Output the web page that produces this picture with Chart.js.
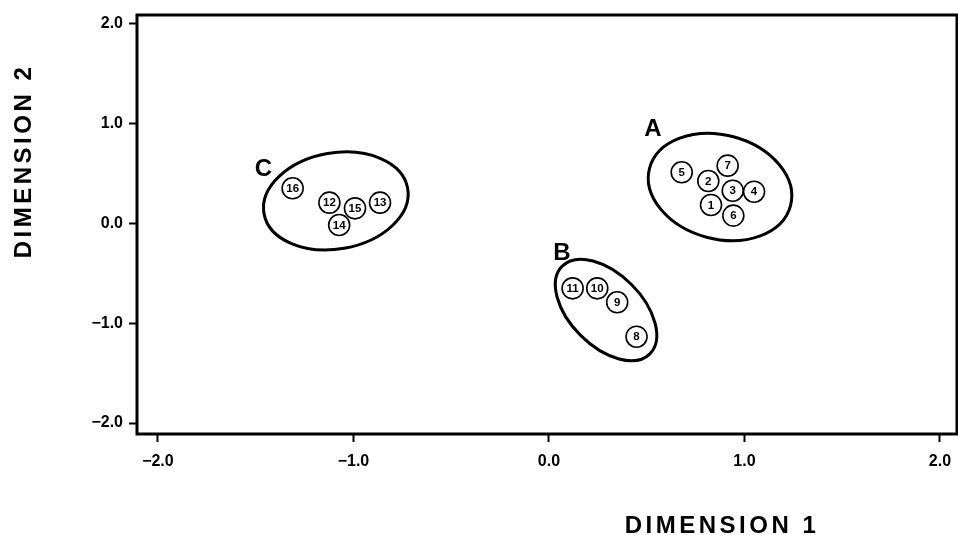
<!DOCTYPE html>
<html><head><meta charset="utf-8">
<script src="https://cdn.jsdelivr.net/npm/chart.js@4.4.1/dist/chart.umd.min.js"></script>
<style>html,body{margin:0;padding:0;background:#fff}#wrap{width:958px;height:535px}</style>
</head><body><div id="wrap"><canvas id="c" width="958" height="535"></canvas></div>
<script>
// ---- data ----
const pointNames = ['1','2','3','4','5','6','7','8','9','10','11','12','13','14','15','16'];
const dim1 = [0.829, 0.815, 0.940, 1.049, 0.679, 0.943, 0.914, 0.448, 0.349, 0.247, 0.121, -1.123, -0.864, -1.073, -0.992, -1.311];
const dim2 = [0.186, 0.426, 0.329, 0.319, 0.513, 0.079, 0.580, -1.135, -0.790, -0.650, -0.650, 0.209, 0.209, -0.015, 0.152, 0.353];
const tickValues = [-2, -1, 0, 1, 2];
const tickLabels = ['\u22122.0', '\u22121.0', '0.0', '1.0', '2.0'];
const clusterNames = ['A', 'B', 'C'];
const clusterCenterX = [0.875, 0.292, -1.090];
const clusterCenterY = [0.366, -0.867, 0.226];
const clusterLabelX = [0.532, 0.066, -1.460];
const clusterLabelY = [0.957, -0.286, 0.551];
const axisTitles = ['DIMENSION 1', 'DIMENSION 2'];

// ---- styles ----
const ellipseStyle = [
  {a: 0.373, b: 0.266, rot: 15},
  {a: 0.317, b: 0.184, rot: 45},
  {a: 0.373, b: 0.246, rot: -10}
];
const FONT = '"Liberation Sans", Arial, Helvetica, sans-serif';

const overlay = {
  id: 'overlay',
  beforeDatasetsDraw(chart) {
    const {ctx, chartArea: a, scales: {x, y}} = chart;
    ctx.save();
    ctx.strokeStyle = '#000';
    ctx.lineWidth = 3;
    ctx.strokeRect(a.left, a.top, a.right - a.left, a.bottom - a.top);
    const ux = x.getPixelForValue(1) - x.getPixelForValue(0);
    clusterCenterX.forEach((cx, i) => {
      const px = x.getPixelForValue(cx), py = y.getPixelForValue(clusterCenterY[i]);
      const e = ellipseStyle[i];
      ctx.beginPath();
      ctx.ellipse(px, py, e.a * ux, e.b * ux, e.rot * Math.PI / 180, 0, 2 * Math.PI);
      ctx.stroke();
    });
    ctx.restore();
  },
  afterDatasetsDraw(chart) {
    const {ctx, scales: {x, y}} = chart;
    ctx.save();
    ctx.fillStyle = '#000';
    ctx.textAlign = 'center';
    ctx.textBaseline = 'middle';
    ctx.font = 'bold 11.5px ' + FONT;
    chart.getDatasetMeta(0).data.forEach((pt, i) => {
      ctx.fillText(pointNames[i], pt.x, pt.y + 0.5);
    });
    ctx.font = 'bold 24px ' + FONT;
    clusterNames.forEach((n, i) => {
      ctx.fillText(n, x.getPixelForValue(clusterLabelX[i]), y.getPixelForValue(clusterLabelY[i]) + 1);
    });
    // axis titles
    ctx.font = 'bold 24px ' + FONT;
    try { ctx.letterSpacing = '3.5px'; } catch (e) {}
    ctx.fillText(axisTitles[0], 722, 526);
    ctx.translate(24, 161);
    ctx.rotate(-Math.PI / 2);
    ctx.fillText(axisTitles[1], 0, 0);
    ctx.restore();
  }
};

function noPad(s) { s.paddingLeft = 0; s.paddingRight = 0; s.paddingTop = 0; s.paddingBottom = 0; }

new Chart(document.getElementById('c'), {
  type: 'scatter',
  data: {
    datasets: [{
      data: dim1.map((v, i) => ({x: v, y: dim2[i]})),
      pointRadius: 10.5,
      pointHoverRadius: 10.5,
      pointBorderWidth: 1.6,
      pointBackgroundColor: '#fff',
      pointBorderColor: '#000'
    }]
  },
  options: {
    responsive: false,
    animation: false,
    devicePixelRatio: 1,
    layout: {autoPadding: false, padding: {left: 0, right: 1, top: 15, bottom: 0}},
    plugins: {legend: {display: false}, tooltip: {enabled: false}},
    scales: {
      x: {
        type: 'linear', min: -2.107, max: 2.087,
        afterBuildTicks: s => { s.ticks = tickValues.map(v => ({value: v})); },
        afterFit: s => { s.height = 101; noPad(s); },
        afterUpdate: s => { noPad(s); },
        border: {display: false},
        grid: {drawOnChartArea: false, drawTicks: true, tickLength: 8, tickWidth: 2, tickColor: '#000', color: '#000'},
        ticks: {
          color: '#000', padding: 10, maxRotation: 0,
          font: {family: FONT, size: 16, weight: 'bold'},
          callback: (v, i) => tickLabels[i]
        }
      },
      y: {
        type: 'linear', min: -2.11, max: 2.09,
        afterBuildTicks: s => { s.ticks = tickValues.map(v => ({value: v})); },
        afterFit: s => { s.width = 137; noPad(s); },
        afterUpdate: s => { noPad(s); },
        border: {display: false},
        grid: {drawOnChartArea: false, drawTicks: true, tickLength: 8, tickWidth: 2, tickColor: '#000', color: '#000'},
        ticks: {
          color: '#000', padding: 6,
          font: {family: FONT, size: 16, weight: 'bold'},
          callback: (v, i) => tickLabels[i]
        }
      }
    }
  },
  plugins: [overlay]
});
</script>
</body></html>
